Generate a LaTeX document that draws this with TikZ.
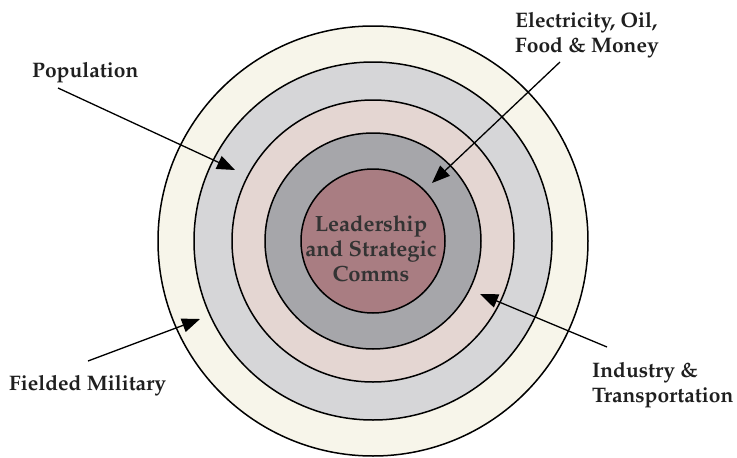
\documentclass[tikz,border=0pt]{standalone}
\usepackage[T1]{fontenc}
\usepackage{mathpazo}
\usepackage{xcolor}
\usepackage{tikz}
\usetikzlibrary{arrows.meta}
\definecolor{ringcream}{HTML}{F7F5EA}
\definecolor{ringlight}{HTML}{D6D6D8}
\definecolor{ringpink}{HTML}{E4D6D2}
\definecolor{ringdark}{HTML}{A6A6AA}
\definecolor{ringcore}{HTML}{A97D82}
\tikzstyle{ring}=[draw=black,line width=1.5pt]
\tikzstyle{label}=[font=\fontsize{21}{25}\selectfont\bfseries,text=black!88,align=left,inner sep=0pt]
\tikzstyle{pointer}=[line width=1.3pt,-{Triangle[length=18pt,width=14pt]}]

\begin{document}
\begin{tikzpicture}[x=1pt,y=-1pt]
        \useasboundingbox (0,0) rectangle (737,458);
        \fill[white] (0,0) rectangle (737,458);
        % rings, outside in
        \draw[ring,fill=ringcream] (373,241) circle (215pt);
        \draw[ring,fill=ringlight] (373,241) circle (179pt);
        \draw[ring,fill=ringpink]  (373,241) circle (141pt);
        \draw[ring,fill=ringdark]  (373,241) circle (108pt);
        \draw[ring,fill=ringcore]  (373,241) circle (72pt);
        \node at (371,248.5) [label,align=center,text=black!80,font=\fontsize{22}{25}\selectfont\bfseries] (hub) {Leadership\\and Strategic\\Comms};
        % labels
        \node at (32,77) [label,anchor=base west] (pop) {Population};
        \node at (515,12) [label,anchor=north west] (power) {Electricity, Oil,\\Food \& Money};
        \node at (592,362) [label,anchor=north west] (industry) {Industry \&\\Transportation};
        \node at (9,390) [label,anchor=base west] (army) {Fielded Military};
        % arrows into the rings
        \coordinate (pop-from) at (58,88);
        \coordinate (pop-to) at (235,170);
        \coordinate (power-from) at (560,62);
        \coordinate (power-to) at (432,183);
        \coordinate (industry-from) at (607,347);
        \coordinate (industry-to) at (480,294);
        \coordinate (army-from) at (88,361);
        \coordinate (army-to) at (200,319);
        \draw [pointer] (pop-from) -- (pop-to);
        \draw [pointer] (power-from) -- (power-to);
        \draw [pointer] (industry-from) -- (industry-to);
        \draw [pointer] (army-from) -- (army-to);
      \end{tikzpicture}
\end{document}
